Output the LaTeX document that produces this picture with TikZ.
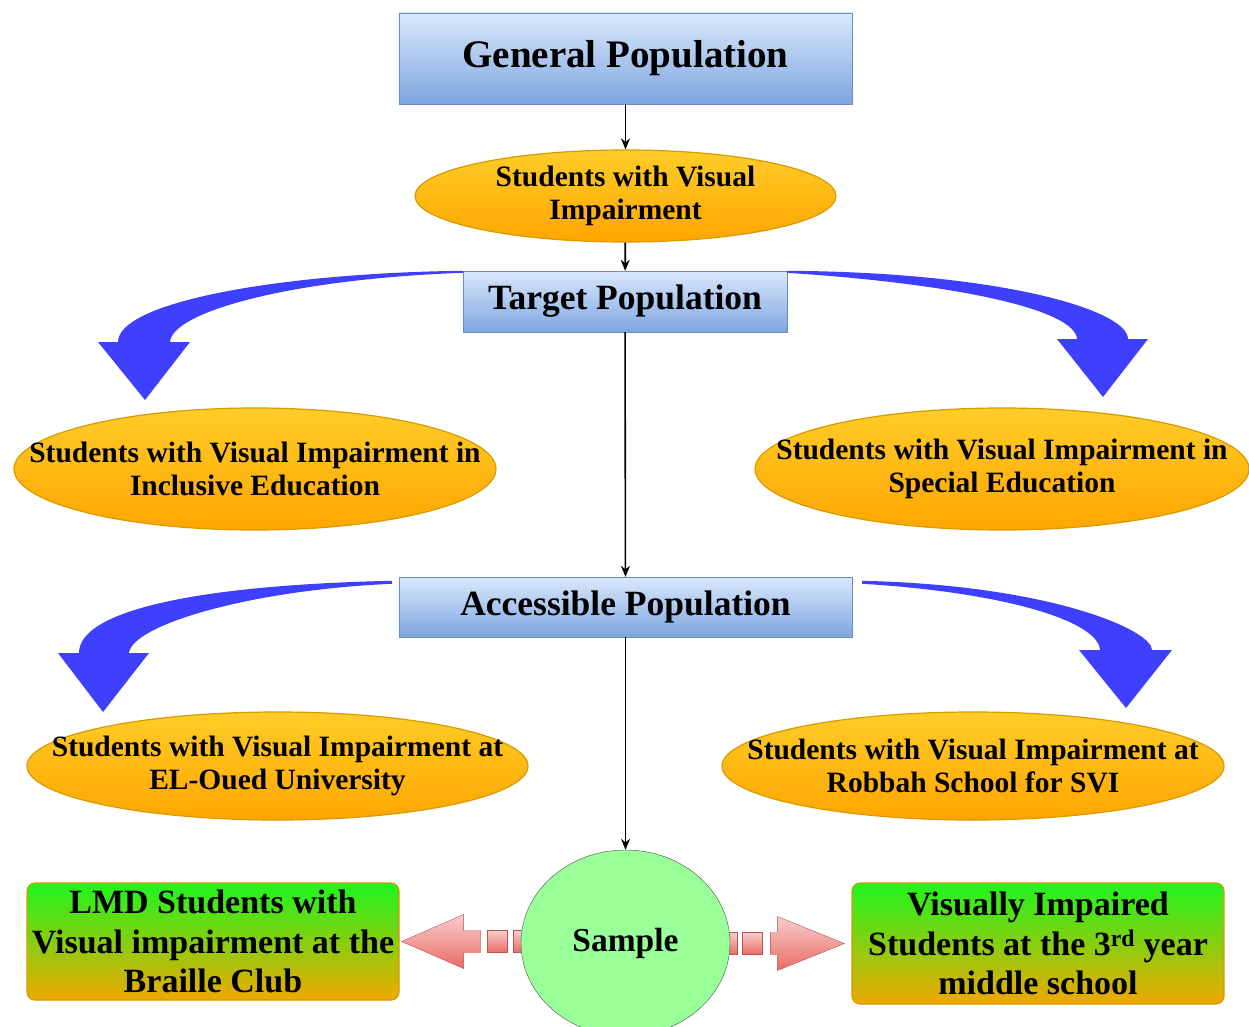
\documentclass[tikz,border=0pt]{standalone}
\usepackage{fontspec}
\setmainfont{Liberation Serif}
\usetikzlibrary{shapes.geometric,arrows.meta}

\definecolor{blutop}{HTML}{DAE8FC}
\definecolor{blubot}{HTML}{7EA6E0}
\definecolor{bluline}{HTML}{6C8EBF}
\definecolor{orgtop}{HTML}{FFCD28}
\definecolor{orgbot}{HTML}{FFA500}
\definecolor{orgline}{HTML}{D79B00}
\definecolor{grntop}{HTML}{1EF51E}
\definecolor{grnbot}{HTML}{F0A800}
\definecolor{smpfill}{HTML}{99FF99}
\definecolor{redtop}{HTML}{F8CECC}
\definecolor{redbot}{HTML}{EA6B66}
\definecolor{redline}{HTML}{B85450}
\definecolor{bendblue}{HTML}{3F3FFF}

\begin{document}
\begin{tikzpicture}[
    x=1pt, y=-1pt,
    popbox/.style   = {draw=bluline, top color=blutop, bottom color=blubot, inner sep=0pt,
                       font=\fontsize{35.5}{40}\selectfont\bfseries},
    oval/.style     = {ellipse, draw=orgline, line width=1.2pt, top color=orgtop, bottom color=orgbot,
                       inner xsep=-80pt, inner ysep=-25pt, align=center,
                       font=\fontsize{29.5}{32.5}\selectfont\bfseries},
    leafbox/.style  = {draw=orgline, line width=1.2pt, rounded corners=8pt, top color=grntop,
                       bottom color=grnbot, inner sep=0pt, align=center,
                       font=\fontsize{34}{39.5}\selectfont\bfseries},
    sample/.style   = {ellipse, draw=black!70, fill=smpfill, minimum width=209pt, minimum height=186pt,
                       inner sep=0pt, font=\fontsize{33.5}{36}\selectfont\bfseries},
    flow/.style     = {draw, line width=1.6pt, -{Stealth[length=11pt,width=9pt]}},
    stripe/.style   = {draw=redline, top color=redtop, bottom color=redbot},
    bluebend/.style = {fill=bendblue},
]
\useasboundingbox (0,0) rectangle (1249,1027);

% populations
\node[popbox, minimum width=453pt, minimum height=91pt, font=\fontsize{39}{42}\selectfont\bfseries]
    (gen) at (625.5,58.5) {General Population};
\node[oval, minimum width=421pt, minimum height=92pt] (svi) at (625.5,196) {Students with Visual\\Impairment};
\node[popbox, minimum width=324pt, minimum height=61pt] (tgt) at (625,301.5) {Target Population};
\node[oval, minimum width=482pt, minimum height=122pt] (incl) at (255,469)
    {Students with Visual Impairment in\\Inclusive Education};
\node[oval, minimum width=494pt, minimum height=122pt] (spec) at (1002,469)
    {Students with Visual Impairment in\\Special Education};
\node[popbox, minimum width=453pt, minimum height=60pt] (acc) at (625.5,607) {Accessible Population};
\node[oval, minimum width=501pt, minimum height=108pt] (univ) at (277.5,766)
    {Students with Visual Impairment at\\EL-Oued University};
\node[oval, minimum width=502pt, minimum height=108pt] (robb) at (973,766)
    {Students with Visual Impairment at\\Robbah School for SVI};

% sample groups
\node[leafbox, minimum width=372pt, minimum height=117pt] (lmd) at (213,941.5)
    {LMD Students with\\Visual impairment at the\\Braille Club};
\node[leafbox, minimum width=372pt, minimum height=121pt] (mid) at (1038,943.5)
    {Visually Impaired\\Students at the 3\textsuperscript{rd} year\\middle school};

% striped arrows
\begin{scope}[shift={([xshift=2pt]lmd.east)}]
  \draw[stripe] (0,0) -- (62,-27) -- (62,-11) -- (79,-11) -- (79,11) -- (62,11) -- (62,27) -- cycle;
  \draw[stripe] (86,-11) rectangle (106,11);
  \draw[stripe] (112,-11) rectangle (126,11);
\end{scope}
\begin{scope}[shift={([xshift=-7pt]mid.west)}, xscale=-1]
  \draw[stripe] (0,0) -- (67,-27) -- (67,-11) -- (74,-11) -- (74,11) -- (67,11) -- (67,27) -- cycle;
  \draw[stripe] (82,-11) rectangle (102,11);
  \draw[stripe] (107,-11) rectangle (121,11);
\end{scope}

\node[sample] (smp) at (625.5,943) {Sample};

% straight flow
\draw[flow] (gen) -- (svi);
\draw[flow] (svi) -- (tgt);
\draw[flow] (tgt) -- (acc);
\draw[flow] (acc) -- (smp);

% bent arrows
\fill[bluebend] (tgt.north west) .. controls (280,273) and (118,302) .. (118,342) -- (98,342) -- (145,400)
    -- (190,342) -- (170,342) .. controls (172,312) and (290,279) .. ([yshift=-2pt]tgt.north west) -- cycle;
\fill[bluebend] (tgt.north east) .. controls (1000,272) and (1128,310) .. (1128,339) -- (1148,339) -- (1103,397)
    -- (1057,339) -- (1077,339) .. controls (1075,310) and (960,284) .. ([yshift=-2pt]tgt.north east) -- cycle;
\fill[bluebend] ([shift={(-7,4)}]acc.north west) .. controls (200,585) and (79,610) .. (79,653) -- (58,653)
    -- (103,712) -- (149,653) -- (129,653) .. controls (132,625) and (250,590) .. ([shift={(-7,7)}]acc.north west) -- cycle;
\fill[bluebend] ([shift={(10,4)}]acc.north east) .. controls (1050,585) and (1152,630) .. (1152,650) -- (1172,650)
    -- (1126,708) -- (1079,650) -- (1100,650) .. controls (1098,620) and (1000,592) .. ([shift={(10,7)}]acc.north east) -- cycle;
\end{tikzpicture}
\end{document}
